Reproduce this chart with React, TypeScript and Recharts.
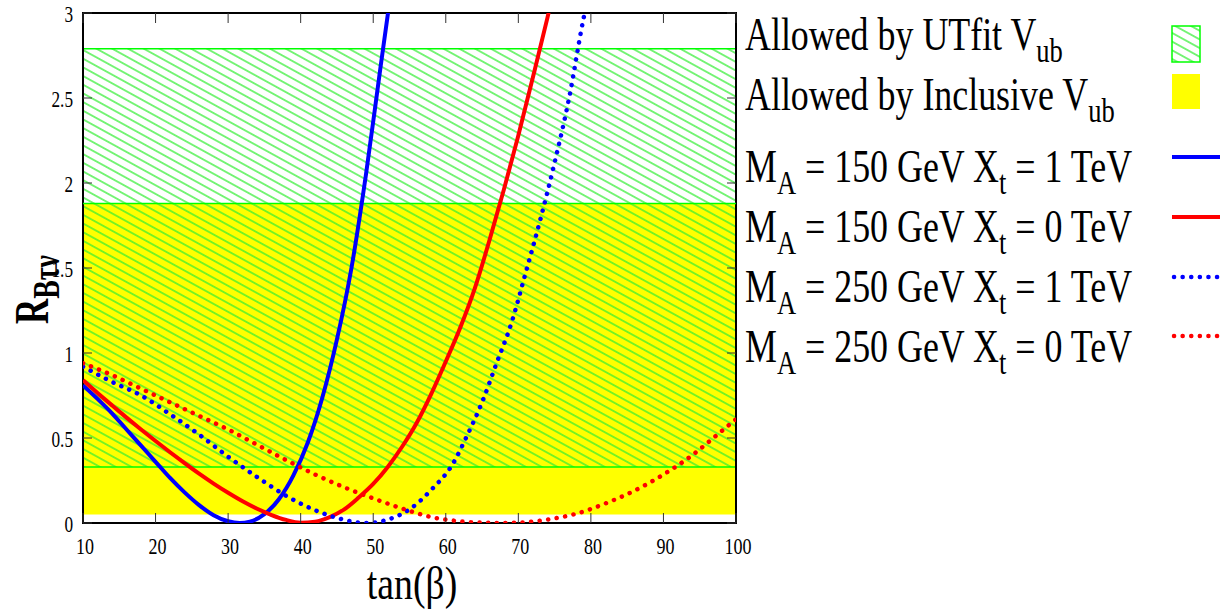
import { LineChart, Line, XAxis, YAxis, ReferenceArea, ReferenceLine } from "recharts";

// tan(beta) / R_Btaunu
const ma150xt1T = [10, 12, 14, 16, 18, 20, 22, 24, 26, 28, 30, 31.6, 33, 35, 37, 39, 41, 43, 45, 47, 49, 51, 52.2];
const ma150xt1R = [0.81, 0.73, 0.645, 0.55, 0.455, 0.36, 0.265, 0.18, 0.105, 0.046, 0.01, 0, 0.008, 0.052, 0.14, 0.28, 0.475, 0.74, 1.08, 1.5, 2.05, 2.68, 3.05];

const ma150xt0T = [10, 12, 14, 16, 18, 20, 22, 24, 26, 28, 30, 32, 34, 36, 38, 40, 42, 44, 46, 48, 50, 52, 54, 56, 58, 60, 62, 64, 66, 68, 70, 72, 74, 74.6];
const ma150xt0R = [0.84, 0.765, 0.692, 0.62, 0.55, 0.482, 0.416, 0.352, 0.29, 0.232, 0.178, 0.128, 0.084, 0.047, 0.018, 0.002, 0.008, 0.035, 0.08, 0.15, 0.23, 0.33, 0.45, 0.59, 0.76, 0.95, 1.15, 1.38, 1.66, 1.96, 2.28, 2.62, 2.97, 3.08];

const ma250xt1T = [10, 14, 18, 22, 26, 30, 34, 38, 42, 45, 48, 49, 52, 55, 58, 61, 63, 65, 67, 69, 71, 73, 75, 77, 79, 79.3];
const ma250xt1R = [0.92, 0.83, 0.75, 0.64, 0.52, 0.39, 0.27, 0.16, 0.075, 0.03, 0.003, 0, 0.02, 0.08, 0.195, 0.35, 0.52, 0.71, 0.94, 1.17, 1.47, 1.78, 2.12, 2.5, 2.97, 3.03];

const ma250xt0T = [10, 14, 18, 22, 26, 30, 34, 38, 42, 46, 50, 54, 58, 62, 66, 68, 70, 74, 78, 82, 86, 90, 94, 98, 100];
const ma250xt0R = [0.94, 0.87, 0.79, 0.71, 0.63, 0.55, 0.46, 0.37, 0.285, 0.21, 0.145, 0.085, 0.035, 0.01, 0.001, 0, 0.002, 0.02, 0.055, 0.115, 0.19, 0.285, 0.4, 0.54, 0.61];

// allowed bands
const utfitBand = [0.33, 2.79];
const inclusiveBand = [0.05, 1.88];

const xTicks = [10, 20, 30, 40, 50, 60, 70, 80, 90, 100];
const yTicks = [0, 0.5, 1, 1.5, 2, 2.5, 3];

const zip = (ts: number[], rs: number[]) => ts.map((t, i) => ({ t, r: rs[i] }));

const PLOT_LEFT = 83;
const PLOT_RIGHT = 736;
const PLOT_TOP = 13;
const PLOT_BOTTOM = 523;
const serif = { fontFamily: "Liberation Serif, Times New Roman, serif" };

const XTick = ({ x, payload }: any) => (
    <g>
        <line x1={x} x2={x} y1={PLOT_BOTTOM} y2={PLOT_BOTTOM - 10} stroke="#333" />
        <line x1={x} x2={x} y1={PLOT_TOP} y2={PLOT_TOP + 10} stroke="#333" />
        <text transform={`translate(${x + 2},554) scale(0.75,1)`} textAnchor="middle" style={serif} fontSize={24} fill="#000">
            {payload.value}
        </text>
    </g>
);

const YTick = ({ y, payload }: any) => (
    <g>
        <line x1={PLOT_LEFT} x2={PLOT_LEFT + 9} y1={y} y2={y} stroke="#333" />
        <line x1={PLOT_RIGHT} x2={PLOT_RIGHT - 9} y1={y} y2={y} stroke="#333" />
        <text transform={`translate(${PLOT_LEFT - 10},${y + 9}) scale(0.75,1)`} textAnchor="end" style={serif} fontSize={23} fill="#000">
            {payload.value}
        </text>
    </g>
);

const LegendRow = ({ y, main, sub, rest, sub2, rest2 }: any) => (
    <text transform={`translate(745,${y}) scale(0.78,1)`} style={serif} fontSize={46} fill="#000">
        {main}
        <tspan fontSize={34} dy={12}>{sub}</tspan>
        {rest !== undefined && <tspan dy={-12}>{rest}</tspan>}
        {sub2 !== undefined && <tspan fontSize={34} dy={12}>{sub2}</tspan>}
        {rest2 !== undefined && <tspan dy={-12}>{rest2}</tspan>}
    </text>
);

const Overlay = () => (
    <svg width={1220} height={609} style={{ position: "absolute", left: 0, top: 0, pointerEvents: "none" }}>
        <defs>
            <pattern id="hatch" patternUnits="userSpaceOnUse" width={7.6} height={7.6} patternTransform="rotate(28.8)">
                <line x1={0} y1={3.8} x2={7.6} y2={3.8} stroke="#33ee33" strokeWidth={1.3} />
            </pattern>
        </defs>

        <LegendRow y={50} main="Allowed by UTfit V" sub="ub" />
        <rect x={1172} y={26} width={28} height={36} fill="url(#hatch)" stroke="#00ff00" strokeWidth={1.5} />
        <LegendRow y={110} main="Allowed by Inclusive V" sub="ub" />
        <rect x={1172} y={74} width={28} height={35} fill="#ffff00" />

        <LegendRow y={182} main="M" sub="A" rest=" = 150 GeV X" sub2="t" rest2=" = 1 TeV" />
        <line x1={1172} x2={1220} y1={157} y2={157} stroke="#0000ff" strokeWidth={4} />
        <LegendRow y={242} main="M" sub="A" rest=" = 150 GeV X" sub2="t" rest2=" = 0 TeV" />
        <line x1={1172} x2={1220} y1={217} y2={217} stroke="#ff0000" strokeWidth={4} />
        <LegendRow y={302} main="M" sub="A" rest=" = 250 GeV X" sub2="t" rest2=" = 1 TeV" />
        <line x1={1174} x2={1220} y1={277} y2={277} stroke="#0000ff" strokeWidth={4.5} strokeDasharray="0.1 8.5" strokeLinecap="round" />
        <LegendRow y={362} main="M" sub="A" rest=" = 250 GeV X" sub2="t" rest2=" = 0 TeV" />
        <line x1={1174} x2={1220} y1={336} y2={336} stroke="#ff0000" strokeWidth={4.5} strokeDasharray="0.1 8.5" strokeLinecap="round" />

        <text transform="translate(412,599) scale(0.82,1)" textAnchor="middle" style={serif} fontSize={46} fill="#000">
            tan(β)
        </text>
        <text transform="translate(48,324) rotate(-90) scale(0.73,1)" style={serif} fontSize={48} fontWeight="bold" fill="#000">
            R<tspan fontSize={38} dy={11}>Bτν</tspan>
        </text>
    </svg>
);

const App = () => {
    return (
        <div style={{ position: "absolute", left: 0, top: 0, width: 1220, height: 609, background: "#fff" }}>
            <LineChart width={1220} height={609} margin={{ top: PLOT_TOP, right: 1220 - PLOT_RIGHT, bottom: 46, left: 23 }}>
                <XAxis
                    dataKey="t"
                    type="number"
                    domain={[10, 100]}
                    ticks={xTicks}
                    allowDataOverflow
                    axisLine={false}
                    tickLine={false}
                    tickSize={0}
                    height={40}
                    tick={<XTick />}
                />
                <YAxis
                    type="number"
                    domain={[0, 3]}
                    ticks={yTicks}
                    allowDataOverflow
                    axisLine={false}
                    tickLine={false}
                    tickSize={0}
                    width={60}
                    tick={<YTick />}
                />
                <ReferenceArea x1={10} x2={100} y1={inclusiveBand[0]} y2={inclusiveBand[1]} fill="#ffff00" fillOpacity={1} stroke="none" />
                <ReferenceArea x1={10} x2={100} y1={utfitBand[0]} y2={utfitBand[1]} fill="url(#hatch)" fillOpacity={1} stroke="#00ff00" strokeWidth={1.5} />
                <ReferenceLine y={inclusiveBand[1]} stroke="#00ff00" strokeWidth={1.5} />

                <Line data={zip(ma150xt1T, ma150xt1R)} dataKey="r" type="monotone" stroke="#0000ff" strokeWidth={4} dot={false} isAnimationActive={false} />
                <Line data={zip(ma150xt0T, ma150xt0R)} dataKey="r" type="monotone" stroke="#ff0000" strokeWidth={4} dot={false} isAnimationActive={false} />
                <Line data={zip(ma250xt1T, ma250xt1R)} dataKey="r" type="monotone" stroke="#0000ff" strokeWidth={4.5} strokeDasharray="0.1 8.5" strokeLinecap="round" dot={false} isAnimationActive={false} />
                <Line data={zip(ma250xt0T, ma250xt0R)} dataKey="r" type="monotone" stroke="#ff0000" strokeWidth={4.5} strokeDasharray="0.1 8.5" strokeLinecap="round" dot={false} isAnimationActive={false} />

                <ReferenceArea x1={10} x2={100} y1={0} y2={3} fill="none" stroke="#000" strokeWidth={2} />
            </LineChart>
            <Overlay />
        </div>
    );
};

export default App;
